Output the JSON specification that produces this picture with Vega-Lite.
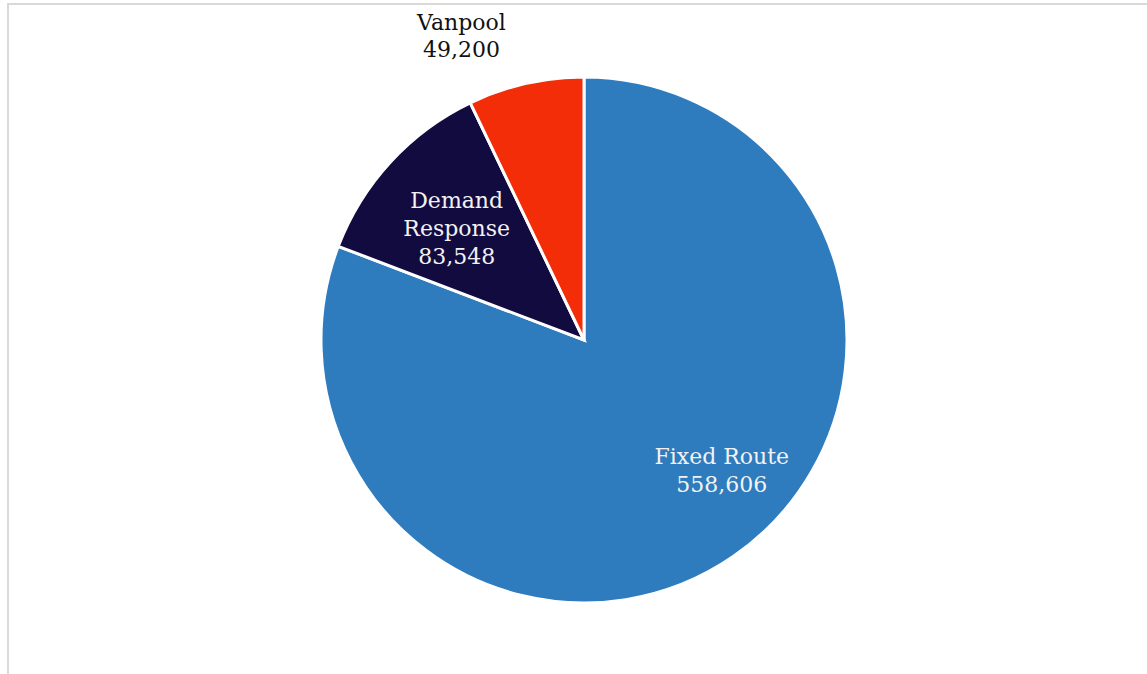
{
  "$schema": "https://vega.github.io/schema/vega-lite/v6.json",
  "width": 1152,
  "height": 672,
  "autosize": {"type": "none"},
  "padding": {"left": 8, "top": 4, "right": 0, "bottom": 0},
  "background": "white",
  "view": {"stroke": "#d9d9d9", "strokeWidth": 2},
  "config": {"view": {"stroke": "#d9d9d9", "strokeWidth": 2}},
  "data": {
    "values": [
      {"type": "Fixed Route", "value": 558606, "label": "Fixed Route\n558,606"},
      {"type": "Demand Response", "value": 83548, "label": "Demand\nResponse\n83,548"},
      {"type": "Vanpool", "value": 49200, "label": "Vanpool\n49,200"}
    ]
  },
  "encoding": {
    "theta": {"field": "value", "type": "quantitative", "stack": true},
    "order": {"field": "value", "type": "quantitative", "sort": "descending"}
  },
  "layer": [
    {
      "mark": {"type": "arc", "outerRadius": 263, "stroke": "white", "strokeWidth": 3},
      "encoding": {
        "color": {
          "field": "type",
          "type": "nominal",
          "scale": {"domain": ["Fixed Route", "Demand Response", "Vanpool"], "range": ["#2E7BBE", "#120B40", "#F22D08"]},
          "legend": null
        }
      }
    },
    {
      "mark": {"type": "text", "radius": 190, "dx": 30, "dy": -39, "font": "DejaVu Serif", "fontSize": 22, "lineHeight": 28, "lineBreak": "\n", "fill": "#f2f2f2", "align": "center", "baseline": "middle"},
      "encoding": {"text": {"condition": {"test": "datum.type === 'Fixed Route'", "field": "label"}, "value": ""}}
    },
    {
      "mark": {"type": "text", "radius": 169, "dx": -3, "dy": -25, "font": "DejaVu Serif", "fontSize": 22, "lineHeight": 28, "lineBreak": "\n", "fill": "#f2f2f2", "align": "center", "baseline": "middle"},
      "encoding": {"text": {"condition": {"test": "datum.type === 'Demand Response'", "field": "label"}, "value": ""}}
    },
    {
      "mark": {"type": "text", "radius": 327, "dx": -50, "dy": 2, "font": "DejaVu Serif", "fontSize": 22, "lineHeight": 27, "lineBreak": "\n", "fill": "#111111", "align": "center", "baseline": "middle"},
      "encoding": {"text": {"condition": {"test": "datum.type === 'Vanpool'", "field": "label"}, "value": ""}}
    }
  ]
}
